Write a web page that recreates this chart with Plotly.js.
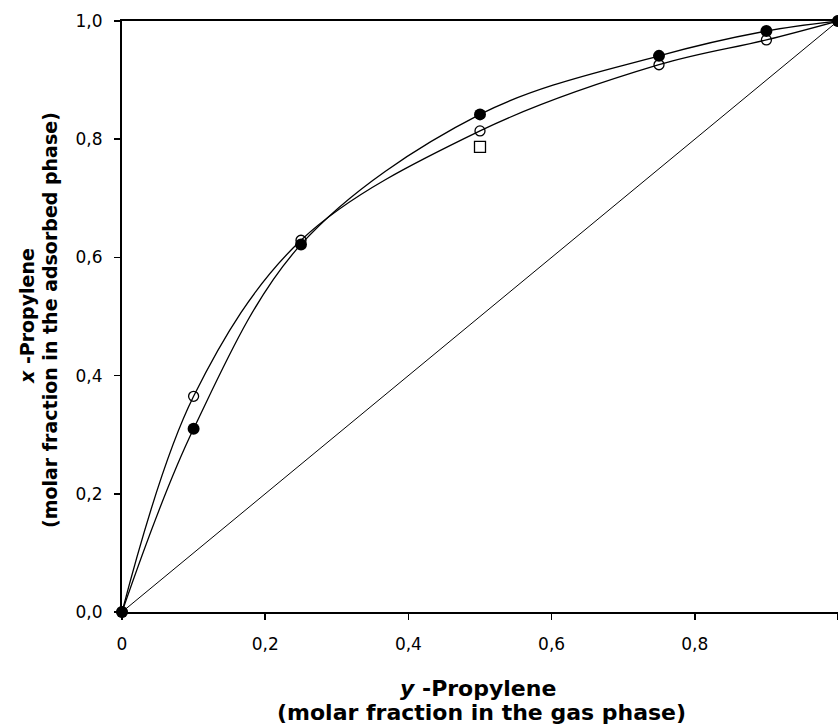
<!DOCTYPE html>
<html>
<head>
<meta charset="utf-8">
<script src="https://cdn.plot.ly/plotly-3.0.1.min.js"></script>
<style>
html, body { margin: 0; padding: 0; background: #fff; }
#chart { width: 838px; height: 725px; }
</style>
</head>
<body>
<div id="chart"></div>
<script>
// Data
var yGas = [0, 0.1, 0.25, 0.5, 0.75, 0.9, 1.0];
var xFilled = [0, 0.31, 0.622, 0.842, 0.941, 0.983, 1.0];
var xOpen = [0, 0.365, 0.629, 0.814, 0.926, 0.968, 1.0];
var squareY = [0.5];
var squareX = [0.787];
var diagonal = [0, 1];

var xTickVals = [0, 0.2, 0.4, 0.6, 0.8, 1.0];
var xTickText = ['0', '0,2', '0,4', '0,6', '0,8', '1'];
var yTickVals = [0, 0.2, 0.4, 0.6, 0.8, 1.0];
var yTickText = ['0,0', '0,2', '0,4', '0,6', '0,8', '1,0'];

var traces = [
  {
    x: diagonal, y: diagonal, type: 'scatter', mode: 'lines',
    line: {color: '#000', width: 1}, hoverinfo: 'skip', cliponaxis: false
  },
  {
    x: yGas, y: xOpen, type: 'scatter', mode: 'lines+markers',
    line: {color: '#000', width: 1.3, shape: 'spline', smoothing: 1},
    marker: {symbol: 'circle-open', size: 10, color: '#000', line: {width: 1.3, color: '#000'}},
    cliponaxis: false
  },
  {
    x: yGas, y: xFilled, type: 'scatter', mode: 'lines+markers',
    line: {color: '#000', width: 1.3, shape: 'spline', smoothing: 1},
    marker: {symbol: 'circle', size: 12, color: '#000'},
    cliponaxis: false
  },
  {
    x: squareY, y: squareX, type: 'scatter', mode: 'markers',
    marker: {symbol: 'square-open', size: 11, color: '#000', line: {width: 1.3, color: '#000'}},
    cliponaxis: false
  }
];

var titleFont = {family: 'DejaVu Sans, sans-serif', size: 19, color: '#000'};
var xTitleFont = {family: 'DejaVu Sans, sans-serif', size: 22, color: '#000'};
var tickFont = {family: 'DejaVu Sans, sans-serif', size: 17, color: '#000'};

var layout = {
  width: 838, height: 725,
  margin: {l: 122, r: 0, t: 21, b: 113, pad: 0},
  paper_bgcolor: '#fff', plot_bgcolor: '#fff',
  showlegend: false,
  font: {family: 'DejaVu Sans, sans-serif', size: 16, color: '#000'},
  xaxis: {
    range: [0, 1], showgrid: false, zeroline: false,
    showline: true, linecolor: '#000', linewidth: 2, mirror: true,
    ticks: 'outside', ticklen: 6, tickwidth: 1.5, tickcolor: '#000',
    tickvals: xTickVals, ticktext: xTickText, ticklabelstandoff: 10,
    tickfont: tickFont
  },
  yaxis: {
    range: [0, 1], showgrid: false, zeroline: false,
    showline: true, linecolor: '#000', linewidth: 2, mirror: true,
    ticks: 'outside', ticklen: 6, tickwidth: 1.5, tickcolor: '#000',
    tickvals: yTickVals, ticktext: yTickText, ticklabelstandoff: 8,
    tickfont: tickFont
  },
  annotations: [
    {
      text: '<b><i>x</i> -Propylene</b>', xref: 'paper', yref: 'paper',
      x: (27 - 122) / 716, y: (612 - 316) / 591, xanchor: 'center', yanchor: 'middle',
      textangle: -90, showarrow: false, font: titleFont
    },
    {
      text: '<b>(molar fraction in the adsorbed phase)</b>', xref: 'paper', yref: 'paper',
      x: (50 - 122) / 716, y: (612 - 320) / 591, xanchor: 'center', yanchor: 'middle',
      textangle: -90, showarrow: false, font: titleFont
    },
    {
      text: '<b><i>y</i> -Propylene</b>', xref: 'paper', yref: 'paper',
      x: (478 - 122) / 716, y: (612 - 688) / 591, xanchor: 'center', yanchor: 'middle',
      showarrow: false, font: xTitleFont
    },
    {
      text: '<b>(molar fraction in the gas phase)</b>', xref: 'paper', yref: 'paper',
      x: (481 - 122) / 716, y: (612 - 712) / 591, xanchor: 'center', yanchor: 'middle',
      showarrow: false, font: xTitleFont
    }
  ]
};

Plotly.newPlot('chart', traces, layout, {displayModeBar: false, staticPlot: true});
</script>
</body>
</html>
